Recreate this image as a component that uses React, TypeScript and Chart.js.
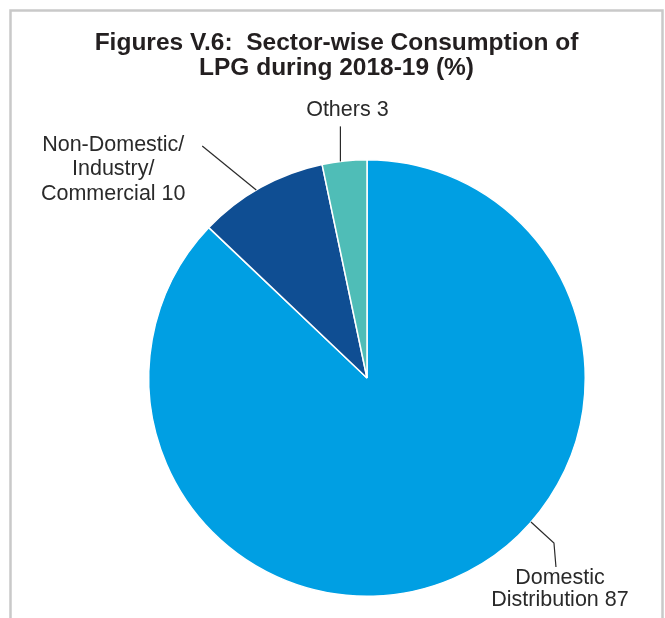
import React, { useEffect, useRef } from "react";
import { Chart, registerables } from "chart.js";

Chart.register(...registerables);

const titleLines = ["Figures V.6:  Sector-wise Consumption of", "LPG during 2018-19 (%)"];
const categories = ["Domestic Distribution", "Non-Domestic/ Industry/ Commercial", "Others"];
const labelLines = [["Domestic", "Distribution 87"], ["Non-Domestic/", "Industry/", "Commercial 10"], ["Others 3"]];
const shares = [87.1, 9.6, 3.3];
const colors = ["#009fe3", "#0f4e93", "#4fbdb7"];

const FONT = "'Liberation Sans', Arial, Helvetica, sans-serif";

// leader style per slice: anchor angle (deg), path offsets from anchor, text offset and baselines
const leaderStyles = [
  { angle: 41.3, path: [[23, 21], [25, 45]], tx: 29, baselines: [62, 84] },
  { angle: -120.5, path: [[-54, -44]], tx: -143, baselines: [-38.5, -15, 10] },
  { angle: -97, path: [[0, -35]], tx: 7, baselines: [-45] },
];

const decorPlugin = {
  id: "decor",
  beforeDraw(chart: any) {
    const ctx = chart.ctx;
    ctx.save();
    ctx.fillStyle = "#ffffff";
    ctx.fillRect(0, 0, chart.width, chart.height);
    ctx.strokeStyle = "#c9c9c9";
    ctx.lineWidth = 2.5;
    ctx.strokeRect(10.5, 10.5, 652, 640);
    ctx.restore();
  },
  afterDraw(chart: any) {
    const ctx = chart.ctx;
    ctx.save();
    // title
    ctx.fillStyle = "#231f20";
    ctx.font = `bold 24.5px ${FONT}`;
    ctx.textAlign = "center";
    ctx.textBaseline = "alphabetic";
    ctx.fillText(titleLines[0], 336.5, 50);
    ctx.fillText(titleLines[1], 336.5, 75);

    const meta = chart.getDatasetMeta(0);
    ctx.font = `21.5px ${FONT}`;
    ctx.fillStyle = "#2a2a2a";
    ctx.strokeStyle = "#2a2a2a";
    ctx.lineWidth = 1.2;
    meta.data.forEach((arc: any, i: number) => {
      const st = leaderStyles[i];
      const p = arc.getProps(["x", "y", "outerRadius"], true);
      const a = (st.angle * Math.PI) / 180;
      const ax = p.x + p.outerRadius * Math.cos(a);
      const ay = p.y + p.outerRadius * Math.sin(a);
      ctx.beginPath();
      ctx.moveTo(ax, ay);
      st.path.forEach(([dx, dy]) => ctx.lineTo(ax + dx, ay + dy));
      ctx.stroke();
      labelLines[i].forEach((line, k) => {
        ctx.fillText(line, ax + st.tx, ay + st.baselines[k]);
      });
    });
    ctx.restore();
  },
};

export default function App() {
  const ref = useRef<HTMLCanvasElement>(null);
  useEffect(() => {
    if (!ref.current) return;
    const chart = new Chart(ref.current, {
      type: "pie",
      data: {
        labels: categories,
        datasets: [
          {
            data: shares,
            backgroundColor: colors,
            borderColor: "#ffffff",
            borderWidth: 1.5,
          },
        ],
      },
      options: {
        responsive: false,
        animation: false,
        devicePixelRatio: 1,
        layout: { padding: { left: 148, right: 79, top: 159, bottom: 21 } },
        plugins: {
          legend: { display: false },
          tooltip: { enabled: false },
          title: { display: false },
        },
      },
      plugins: [decorPlugin],
    });
    return () => chart.destroy();
  }, []);
  return (
    <div style={{ position: "absolute", left: 0, top: 0, width: 665, height: 618, overflow: "hidden" }}>
      <canvas ref={ref} width={665} height={618} />
    </div>
  );
}
